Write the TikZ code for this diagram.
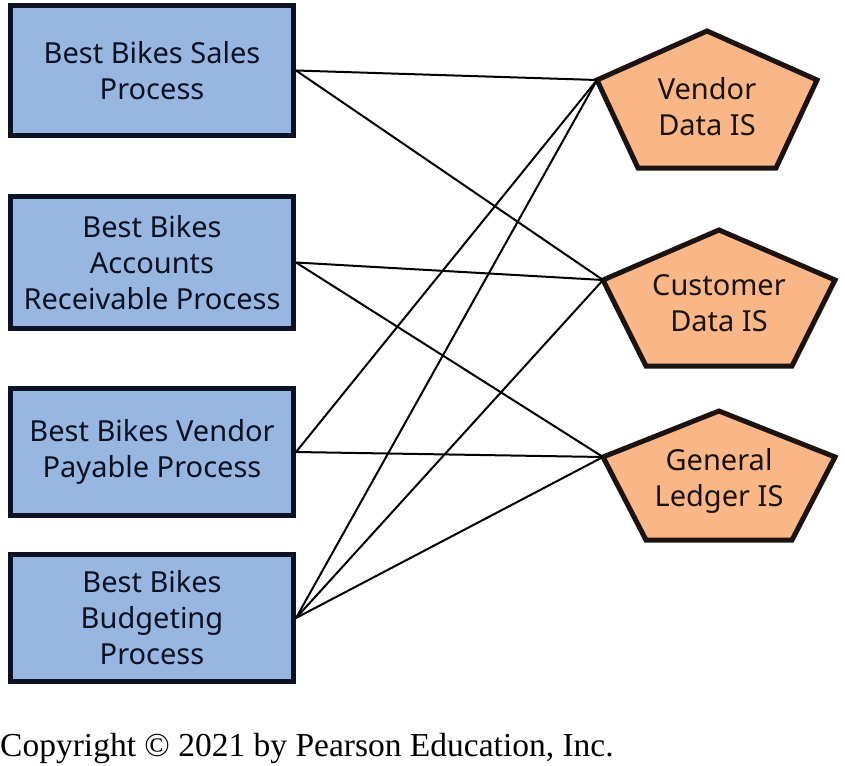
\documentclass[tikz,border=0pt]{standalone}
\usepackage{fontspec}
\setmainfont{Noto Sans}
\newfontfamily\copyfont{Liberation Serif}
\usetikzlibrary{positioning}

\definecolor{procfill}{RGB}{151,183,224}
\definecolor{procline}{RGB}{12,17,36}
\definecolor{isfill}{RGB}{249,183,136}
\definecolor{isline}{RGB}{28,18,16}

\tikzset{
	process/.style={draw=procline, fill=procfill, line width=5pt,
		minimum width=283pt, align=center, text=procline,
		font=\fontsize{29}{36}\selectfont},
	infosys/.style={draw=isline, fill=isfill, line width=5pt, line join=miter},
	islabel/.style={align=center, text=isline, font=\fontsize{29}{36}\selectfont},
	link/.style={line width=2pt, draw=black}
}

\begin{document}
\begin{tikzpicture}[x=1pt, y=-1pt]
						\useasboundingbox (0,0) rectangle (845,765);
						% processes
						\node[process, minimum height=130pt] (sales) at (152,70.5)
								{Best Bikes Sales\\Process};
						\node[process, minimum height=132pt, below=56pt of sales] (receivable)
								{Best Bikes\\Accounts\\Receivable Process};
						\node[process, minimum height=127pt, below=55pt of receivable] (payable)
								{Best Bikes Vendor\\Payable Process};
						\node[process, minimum height=127pt, below=34pt of payable] (budgeting)
								{Best Bikes\\Budgeting\\Process};
						% information systems
						\draw[infosys, shift={(707,80)}] (0,-49) -- (110,0) -- (69,88) --
								(-69,88) -- (-110,0) -- cycle; % vendor
						\coordinate (vendor-w) at (597,80);
						\node[islabel] (vendor) at (707,107) {Vendor\\Data IS};
						\draw[infosys, shift={(719,280)}] (0,-50) -- (116,0) -- (73,86) --
								(-73,86) -- (-116,0) -- cycle; % customer
						\coordinate (customer-w) at (603,280);
						\node[islabel] (customer) at (719,303) {Customer\\Data IS};
						\draw[infosys, shift={(719,457)}] (0,-46) -- (116,0) -- (73,83) --
								(-73,83) -- (-116,0) -- cycle; % ledger
						\coordinate (ledger-w) at (603,457);
						\node[islabel] (ledger) at (719,481) {General\\Ledger IS};
						% links
						\draw[link] (sales.east) -- (vendor-w);
						\draw[link] (sales.east) -- (customer-w);
						\draw[link] (receivable.east) -- (customer-w);
						\draw[link] (receivable.east) -- (ledger-w);
						\draw[link] (payable.east) -- (vendor-w);
						\draw[link] (payable.east) -- (ledger-w);
						\draw[link] (budgeting.east) -- (vendor-w);
						\draw[link] (budgeting.east) -- (customer-w);
						\draw[link] (budgeting.east) -- (ledger-w);
						\node[anchor=base west, inner sep=0pt, font=\copyfont\fontsize{33.5}{40}\selectfont]
								(copyright) at (0,756) {Copyright © 2021 by Pearson Education, Inc.};
				\end{tikzpicture}
\end{document}
